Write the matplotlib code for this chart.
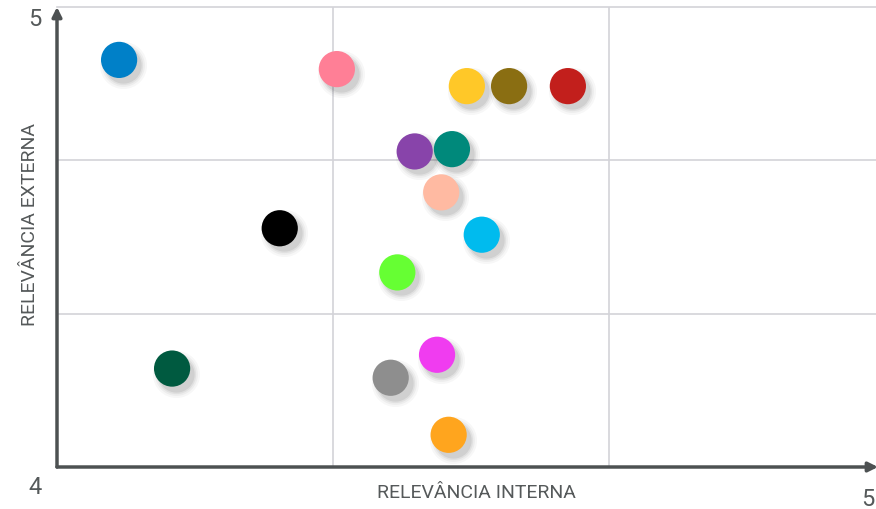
import matplotlib.pyplot as plt
import matplotlib.transforms as mtransforms

# dados (relevância interna x relevância externa)
interna = [4.075, 4.338, 4.495, 4.546, 4.617, 4.432, 4.477, 4.464,
           4.269, 4.513, 4.411, 4.139, 4.459, 4.403, 4.473]
externa = [4.885, 4.865, 4.828, 4.828, 4.828, 4.686, 4.691, 4.597,
           4.519, 4.505, 4.423, 4.214, 4.244, 4.194, 4.070]
cores = ["#0080c8", "#ff7f96", "#ffc828", "#8a6e12", "#c21f1c", "#8844aa",
         "#00897b", "#ffbaa2", "#000000", "#00bbee", "#66ff33", "#005a40",
         "#f03cf0", "#8e8e8e", "#ffa51e"]

plt.rcParams['font.family'] = ['Roboto', 'DejaVu Sans']

fig = plt.figure(figsize=(8.76, 5.10), dpi=100)
W, H = 876, 510
ax = fig.add_axes([57 / W, 42 / H, 828 / W, 460 / H])
ax.set_xlim(4, 5)
ax.set_ylim(4, 5)

for v in [4 + 1 / 3, 4 + 2 / 3]:
    ax.axvline(v, color="#d3d3d8", lw=1.2, zorder=0)
    ax.axhline(v, color="#d3d3d8", lw=1.2, zorder=0)
ax.axhline(5, color="#d3d3d8", lw=1.2, zorder=0, clip_on=False)

for s in ax.spines.values():
    s.set_visible(False)
ax.set_xticks([])
ax.set_yticks([])

# eixos com setas
eixo = "#4d5152"
ax.annotate("", xy=(821 / 828, 0), xytext=(0, 0), xycoords="axes fraction",
            arrowprops=dict(arrowstyle="-|>", color=eixo, lw=2.5, mutation_scale=14,
                            shrinkA=0, shrinkB=0), annotation_clip=False)
ax.annotate("", xy=(0, 1.0), xytext=(0, 0), xycoords="axes fraction",
            arrowprops=dict(arrowstyle="-|>", color=eixo, lw=2.5, mutation_scale=14,
                            shrinkA=0, shrinkB=0), annotation_clip=False)

# sombra difusa
for sz, a in [(1150, 0.03), (950, 0.04), (800, 0.05), (680, 0.07)]:
    sh = mtransforms.offset_copy(ax.transData, fig=fig, x=4, y=-5, units="dots")
    ax.scatter(interna, externa, s=sz, color="#000000", alpha=a, lw=0,
               transform=sh, zorder=2)

ax.scatter(interna, externa, s=680, c=cores, lw=0, zorder=3)

cor_txt = "#55595a"
fig.text(35 / W, 1 - 20 / H, "5", fontsize=17, color=cor_txt, ha="center", va="center")
fig.text(35 / W, 1 - 488 / H, "4", fontsize=17, color=cor_txt, ha="center", va="center")
fig.text(875 / W, 1 - 500 / H, "5", fontsize=17, color=cor_txt, ha="right", va="center")
fig.text(476 / W, 1 - 493 / H, "RELEVÂNCIA INTERNA", fontsize=14, color=cor_txt,
         ha="center", va="center")
fig.text(30 / W, 1 - 225 / H, "RELEVÂNCIA EXTERNA", fontsize=14, color=cor_txt,
         ha="center", va="center", rotation=90)

fig.savefig("out.png", dpi=100)
